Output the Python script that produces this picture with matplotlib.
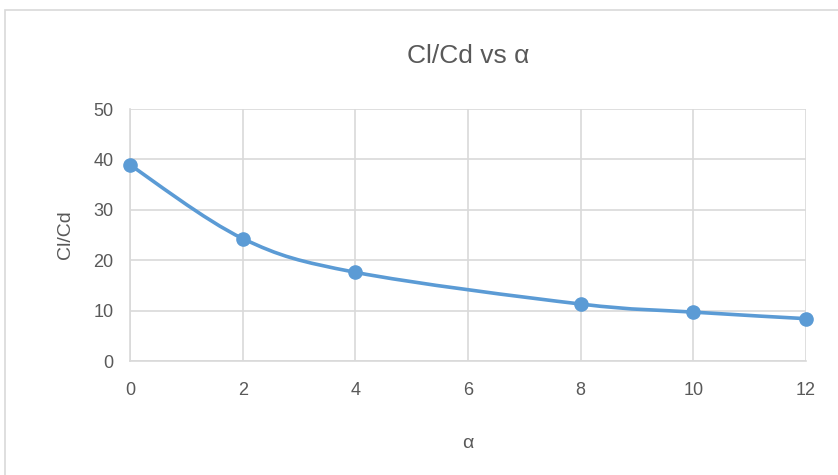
import numpy as np
import matplotlib.pyplot as plt
from matplotlib.path import Path
from matplotlib.patches import PathPatch, Rectangle

# -- data --
alpha = [0, 2, 4, 8, 10, 12]
cl_cd = [38.9, 24.3, 17.6, 11.3, 9.7, 8.4]

x_ticks = [0, 2, 4, 6, 8, 10, 12]
y_ticks = [0, 10, 20, 30, 40, 50]

line_color = "#5b9bd5"
text_color = "#595959"
grid_color = "#d9d9d9"

plt.rcParams['font.family'] = ['Liberation Sans', 'DejaVu Sans']


def smooth_path(xs, ys):
    # excel-like smoothed line: catmull-rom segments as cubic beziers
    pts = np.column_stack([xs, ys]).astype(float)
    n = len(pts)
    verts = [pts[0]]
    codes = [Path.MOVETO]
    for i in range(n - 1):
        p0 = pts[i - 1] if i > 0 else pts[i]
        p1 = pts[i]
        p2 = pts[i + 1]
        p3 = pts[i + 2] if i + 2 < n else pts[i + 1]
        c1 = p1 + (p2 - p0) / 6.0
        c2 = p2 - (p3 - p1) / 6.0
        verts += [c1, c2, p2]
        codes += [Path.CURVE4] * 3
    return Path(verts, codes)


fig = plt.figure(figsize=(8.38, 4.75), dpi=100)

# chart border
fig.patches.append(Rectangle((5 / 838, -0.1), 1.1, 1 - 10 / 475 + 0.1, transform=fig.transFigure,
                             fill=False, edgecolor="#d9d9d9", linewidth=1.2))

ax = fig.add_axes([130 / 838, 1 - 361 / 475, 676 / 838, 252 / 475])
ax.set_xlim(0, 12)
ax.set_ylim(0, 50)
ax.set_xticks(x_ticks)
ax.set_yticks(y_ticks)
ax.grid(True, color=grid_color, linewidth=1.2)
ax.set_axisbelow(True)
for side in ["top", "right"]:
    ax.spines[side].set_visible(False)
for side in ["left", "bottom"]:
    ax.spines[side].set_color(grid_color)
    ax.spines[side].set_linewidth(1.2)
ax.tick_params(length=0, colors=text_color, labelsize=13)
ax.tick_params(axis="x", pad=15)
ax.tick_params(axis="y", pad=12)

ax.add_patch(PathPatch(smooth_path(alpha, cl_cd), fill=False, edgecolor=line_color,
                       linewidth=2.6, capstyle="round", clip_on=False, zorder=3))
ax.plot(alpha, cl_cd, "o", color=line_color, markersize=9.5, clip_on=False, zorder=4)

ax.set_xlabel("α", color=text_color, fontsize=14, labelpad=26)
ax.set_ylabel("Cl/Cd", color=text_color, fontsize=14, labelpad=14)
fig.text(468 / 838, 1 - 56 / 475, "Cl/Cd vs α", ha="center", va="center",
         color=text_color, fontsize=19)

fig.savefig("out.png", dpi=100)
